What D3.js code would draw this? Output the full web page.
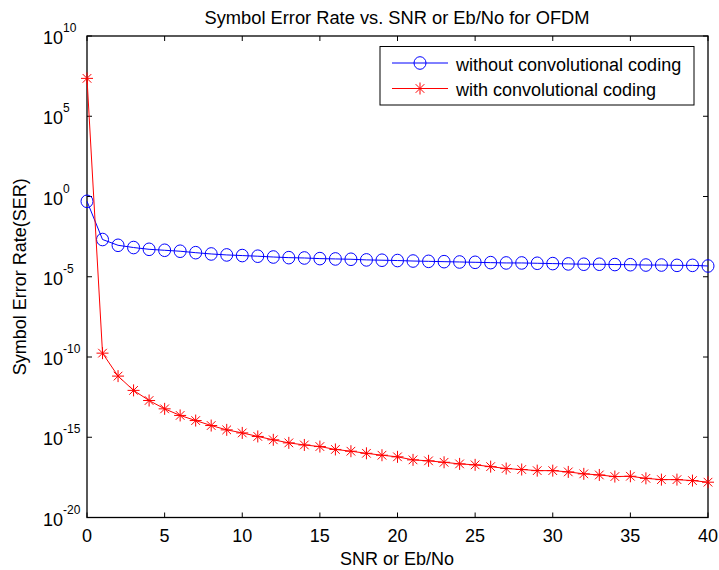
<!DOCTYPE html>
<html><head><meta charset="utf-8">
<script src="https://cdn.jsdelivr.net/npm/d3@7"></script>
<style>body{margin:0;background:#fff}svg{display:block}text{font-family:"Liberation Sans",Arial,sans-serif}</style>
</head><body><div id="chart"></div>
<script>
const snr = d3.range(0, 41);
// log10 of SER
const withoutCodingLog = [-0.30,-2.68,-3.04,-3.18,-3.29,-3.35,-3.41,-3.50,-3.58,-3.64,-3.68,-3.72,-3.77,-3.81,-3.83,-3.87,-3.89,-3.91,-3.95,-3.97,-3.99,-4.02,-4.04,-4.06,-4.08,-4.10,-4.12,-4.14,-4.14,-4.16,-4.18,-4.20,-4.22,-4.22,-4.24,-4.25,-4.27,-4.27,-4.29,-4.29,-4.33];
const withCodingLog = [7.36,-9.76,-11.19,-12.08,-12.71,-13.23,-13.64,-13.96,-14.27,-14.54,-14.73,-14.95,-15.16,-15.35,-15.48,-15.58,-15.76,-15.87,-16.00,-16.12,-16.22,-16.41,-16.47,-16.56,-16.66,-16.72,-16.83,-16.95,-17.01,-17.08,-17.08,-17.16,-17.28,-17.35,-17.45,-17.43,-17.56,-17.64,-17.64,-17.70,-17.80];
const xTicks = [0,5,10,15,20,25,30,35,40];
const yTickExps = [-20,-15,-10,-5,0,5,10];
const seriesNames = ["without convolutional coding","with convolutional coding"];

const W = 719, H = 570;
const L = 87, R = 708, T = 36, B = 517.5;
const FS = 18;
const svg = d3.select("#chart").append("svg").attr("width", W).attr("height", H);
const x = d3.scaleLinear().domain([0, 40]).range([L, R]);
const y = d3.scaleLog().domain([1e-20, 1e10]).range([B, T]);

svg.append("rect").attr("x", L).attr("y", T).attr("width", R - L).attr("height", B - T)
  .attr("fill", "none").attr("stroke", "#000").attr("stroke-width", 1.3);

const tl = 5;
const gx = svg.append("g");
xTicks.forEach(t => {
  gx.append("line").attr("x1", x(t)).attr("x2", x(t)).attr("y1", B).attr("y2", B - tl).attr("stroke", "#000");
  gx.append("line").attr("x1", x(t)).attr("x2", x(t)).attr("y1", T).attr("y2", T + tl).attr("stroke", "#000");
  gx.append("text").attr("x", x(t)).attr("y", 541.5).attr("text-anchor", "middle")
    .attr("font-size", FS).text(t);
});
const gy = svg.append("g");
yTickExps.forEach(e => {
  const yy = y(Math.pow(10, e));
  gy.append("line").attr("x1", L).attr("x2", L + tl).attr("y1", yy).attr("y2", yy).attr("stroke", "#000");
  gy.append("line").attr("x1", R).attr("x2", R - tl).attr("y1", yy).attr("y2", yy).attr("stroke", "#000");
  const tx = gy.append("text").attr("x", 43).attr("y", yy + 8).attr("font-size", FS);
  tx.append("tspan").text("10");
  tx.append("tspan").attr("dy", -12).attr("font-size", 12).text(e);
});

const line = d3.line().x(d => x(d[0])).y(d => y(Math.pow(10, d[1])));
const blue = snr.map((s, i) => [s, withoutCodingLog[i]]);
const red = snr.map((s, i) => [s, withCodingLog[i]]);

const star = (s) => {
  const d = s * 0.72;
  return `M${-s},0L${s},0M0,${-s}L0,${s}M${-d},${-d}L${d},${d}M${-d},${d}L${d},${-d}`;
};

svg.append("path").datum(blue).attr("d", line).attr("fill", "none").attr("stroke", "#0000ff").attr("stroke-width", 1);
svg.append("g").selectAll("ellipse").data(blue).join("ellipse")
  .attr("cx", d => x(d[0])).attr("cy", d => y(Math.pow(10, d[1])))
  .attr("rx", 6).attr("ry", 6.3).attr("fill", "none").attr("stroke", "#0000ff").attr("stroke-width", 1);

svg.append("path").datum(red).attr("d", line).attr("fill", "none").attr("stroke", "#ff0000").attr("stroke-width", 1);
svg.append("g").selectAll("path").data(red).join("path")
  .attr("transform", d => `translate(${x(d[0])},${y(Math.pow(10, d[1]))})`)
  .attr("d", star(6)).attr("fill", "none").attr("stroke", "#ff0000").attr("stroke-width", 1);

svg.append("text").attr("x", 397).attr("y", 24).attr("text-anchor", "middle").attr("font-size", 18.3)
  .text("Symbol Error Rate vs. SNR or Eb/No for OFDM");
svg.append("text").attr("x", 397).attr("y", 565).attr("text-anchor", "middle").attr("font-size", FS)
  .text("SNR or Eb/No");
svg.append("text").attr("transform", `translate(26,${(T + B) / 2}) rotate(-90)`).attr("text-anchor", "middle")
  .attr("font-size", FS).text("Symbol Error Rate(SER)");

const lg = svg.append("g");
lg.append("rect").attr("x", 380).attr("y", 46.5).attr("width", 314).attr("height", 58.5)
  .attr("fill", "#fff").attr("stroke", "#000").attr("stroke-width", 1);
const rows = [63, 88.5];
lg.append("line").attr("x1", 392).attr("x2", 448).attr("y1", rows[0]).attr("y2", rows[0]).attr("stroke", "#0000ff");
lg.append("ellipse").attr("cx", 420).attr("cy", rows[0]).attr("rx", 6).attr("ry", 6.3).attr("fill", "none").attr("stroke", "#0000ff");
lg.append("line").attr("x1", 392).attr("x2", 448).attr("y1", rows[1]).attr("y2", rows[1]).attr("stroke", "#ff0000");
lg.append("path").attr("transform", `translate(420,${rows[1]})`).attr("d", star(6)).attr("fill", "none").attr("stroke", "#ff0000");
seriesNames.forEach((n, i) => {
  lg.append("text").attr("x", 456).attr("y", rows[i] + 7.5).attr("font-size", FS).text(n);
});
</script></body></html>
